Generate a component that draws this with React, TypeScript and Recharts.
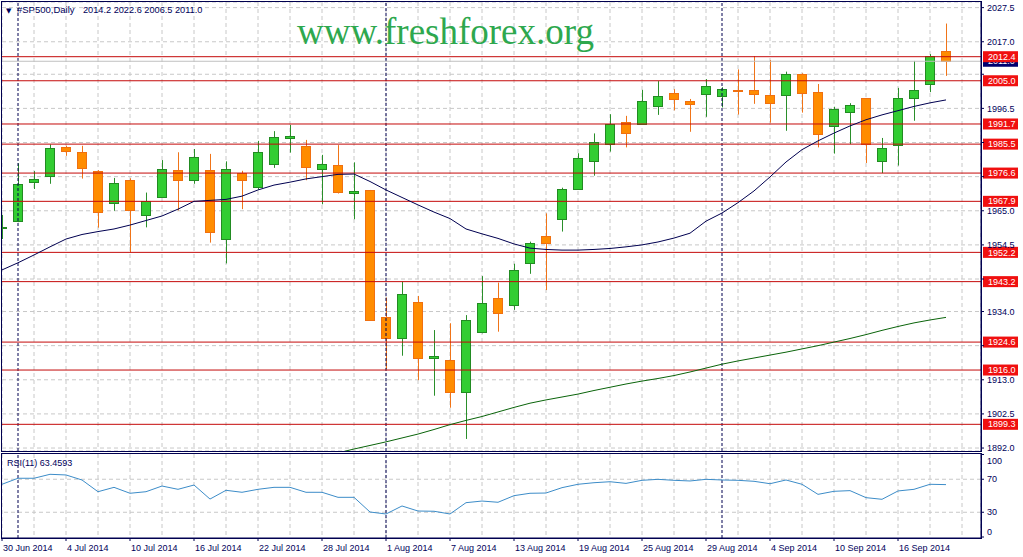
import React from "react";
import { ComposedChart, Bar, Line, XAxis, YAxis, CartesianGrid, ReferenceLine } from "recharts";

// daily candles, 30 Jun 2014 .. 19 Sep 2014 (one per weekday)
const opens = [1959.7, 1961.9, 1973.9, 1975.6, 1984.5, 1983.0, 1977.1, 1967.3, 1974.4, 1963.6, 1969.3, 1977.4, 1974.4, 1977.4, 1956.2, 1976.5, 1972.2, 1979.3, 1987.3, 1984.9, 1977.8, 1979.0, 1970.4, 1971.3, 1932.2, 1925.8, 1936.8, 1919.7, 1919.0, 1909.3, 1927.8, 1938.1, 1935.8, 1949.0, 1957.2, 1962.4, 1971.6, 1980.5, 1985.6, 1992.2, 1991.6, 1997.1, 2001.1, 1998.7, 2000.8, 2000.4, 2002.2, 2002.1, 2000.5, 2000.5, 2007.1, 2001.4, 1991.0, 1995.3, 1999.6, 1980.2, 1985.1, 1999.5, 2003.9, 2014.2];
const highs = [1963.7, 1979.6, 1977.2, 1985.4, 1985.0, 1985.0, 1977.5, 1975.1, 1975.0, 1970.6, 1980.6, 1983.0, 1984.0, 1982.5, 1980.2, 1977.3, 1986.5, 1989.5, 1991.4, 1986.8, 1982.2, 1985.2, 1979.9, 1971.4, 1938.3, 1943.2, 1938.8, 1928.3, 1930.4, 1932.9, 1944.9, 1942.9, 1948.7, 1955.5, 1964.2, 1972.1, 1982.7, 1988.8, 1994.7, 1994.2, 2002.2, 2004.9, 2002.4, 1999.4, 2005.5, 2003.0, 2008.5, 2012.6, 2011.4, 2007.8, 2007.3, 2004.0, 1997.0, 1998.1, 1999.7, 1987.4, 2002.8, 2011.1, 2013.2, 2022.6];
const lows = [1956.3, 1961.5, 1971.7, 1973.3, 1981.9, 1974.9, 1959.8, 1965.0, 1952.2, 1959.9, 1969.1, 1965.1, 1973.3, 1955.2, 1948.8, 1965.5, 1971.5, 1978.2, 1982.9, 1974.4, 1967.0, 1970.3, 1962.4, 1931.2, 1916.3, 1920.4, 1912.9, 1908.1, 1904.4, 1894.8, 1927.3, 1927.8, 1934.5, 1945.6, 1940.6, 1958.6, 1971.5, 1975.8, 1983.2, 1984.5, 1991.5, 1994.5, 1995.9, 1989.3, 1993.9, 1996.8, 1994.6, 1997.9, 1992.1, 1989.6, 1995.2, 1984.5, 1982.6, 1985.5, 1979.7, 1976.6, 1978.9, 1992.7, 2001.5, 2006.5];
const closes = [1959.9, 1973.2, 1974.7, 1984.2, 1983.3, 1978.1, 1964.5, 1973.4, 1965.3, 1967.9, 1977.8, 1974.4, 1981.4, 1958.4, 1977.8, 1974.4, 1983.0, 1987.6, 1988.0, 1978.4, 1979.4, 1970.6, 1971.0, 1931.4, 1925.8, 1939.4, 1919.6, 1920.2, 1909.3, 1931.4, 1936.6, 1933.6, 1946.7, 1955.0, 1954.9, 1971.6, 1981.1, 1986.2, 1991.6, 1988.8, 1998.7, 2000.2, 1999.3, 1997.8, 2003.3, 2002.4, 2001.9, 2000.8, 1997.9, 2007.1, 2001.4, 1988.5, 1996.2, 1997.4, 1985.6, 1984.2, 1999.6, 2002.1, 2012.5, 2011.0];

const maFast = [1946.8, 1949.0, 1951.4, 1953.9, 1956.3, 1957.7, 1958.6, 1959.4, 1960.6, 1962.0, 1963.4, 1965.5, 1967.9, 1968.2, 1968.5, 1969.5, 1971.4, 1972.9, 1973.8, 1974.8, 1975.5, 1976.2, 1976.3, 1974.0, 1971.4, 1969.1, 1966.8, 1964.6, 1962.6, 1959.4, 1957.9, 1956.5, 1954.8, 1953.5, 1953.1, 1952.9, 1952.9, 1953.1, 1953.4, 1953.9, 1954.5, 1955.4, 1956.6, 1958.1, 1961.8, 1964.3, 1967.5, 1971.1, 1975.4, 1980.0, 1983.8, 1986.5, 1988.9, 1991.1, 1993.0, 1994.5, 1995.8, 1997.1, 1998.2, 1999.1];
const maSlow = [null, null, null, null, null, null, null, null, null, null, null, null, null, null, null, null, null, null, null, null, null, 1890.5, 1891.7, 1892.8, 1893.9, 1895.1, 1896.3, 1897.7, 1899.2, 1900.5, 1901.7, 1903.1, 1904.5, 1905.8, 1906.8, 1907.7, 1908.6, 1909.7, 1910.7, 1911.7, 1912.6, 1913.4, 1914.3, 1915.4, 1916.6, 1917.8, 1918.8, 1919.7, 1920.6, 1921.5, 1922.5, 1923.5, 1924.6, 1925.7, 1926.9, 1928.2, 1929.4, 1930.5, 1931.4, 1932.2];

const rsi = [63.9, 71.2, 71.2, 76, 75.2, 69.1, 54.9, 60.2, 53, 54.9, 61.8, 57.8, 63, 46, 56.6, 54.2, 57.8, 60.2, 60.2, 54.2, 54.2, 48.1, 48.1, 30.3, 27.9, 37.6, 31.5, 31.2, 27.9, 41.6, 43.6, 42.1, 50.1, 53, 53.3, 59.8, 63.9, 65.8, 67, 65, 68.7, 69.9, 68.7, 67.9, 69.9, 69.1, 68.7, 67.5, 64.6, 69.1, 63.9, 51.7, 55.4, 56.2, 47.7, 45.7, 55.8, 57.8, 63.9, 63.5];

const levels = [2012.4, 2005.0, 1991.7, 1985.5, 1976.6, 1967.9, 1952.2, 1943.2, 1924.6, 1916.0, 1899.3];
const lastPrice = 2011.0;
const priceTicks = [2027.5, 2017.0, 2007.0, 1996.5, 1986.0, 1975.5, 1965.0, 1954.5, 1944.0, 1934.0, 1923.5, 1913.0, 1902.5, 1892.0];
const coveredTicks = [2007.0, 1986.0, 1975.5, 1944.0, 1923.5];
const rsiTicks = [100, 70, 30, 0];
const rsiLevels = [70, 30];
const separators = [1, 24, 45];
const gridIdx = [0, 2, 4, 6, 8, 10, 12, 14, 16, 18, 20, 22, 24, 26, 28, 30, 32, 34, 36, 38, 40, 42, 44, 46, 48, 50, 52, 54, 56, 58, 60];
const dateTickIdx = [0, 4, 8, 12, 16, 20, 24, 28, 32, 36, 40, 44, 48, 52, 56];
const dateLabels = ["30 Jun 2014", "4 Jul 2014", "10 Jul 2014", "16 Jul 2014", "22 Jul 2014", "28 Jul 2014", "1 Aug 2014", "7 Aug 2014", "13 Aug 2014", "19 Aug 2014", "25 Aug 2014", "29 Aug 2014", "4 Sep 2014", "10 Sep 2014", "16 Sep 2014"];

const NAVY = "#000050";
const TXT = "#00005a";
const GRID = "#c8c8c8";
const FONT = "'Liberation Sans', Arial, sans-serif";
const X_DOMAIN: [number, number] = [0, 61.1875];

const rows = opens.map((o, i) => ({
  i,
  o,
  h: highs[i],
  l: lows[i],
  c: closes[i],
  range: [lows[i], highs[i]],
  maFast: maFast[i],
  maSlow: maSlow[i],
  rsi: rsi[i],
}));

function Candle(props: any) {
  const { x, y, width, height, payload } = props;
  if (x == null || !payload) return null;
  const c = Math.round(x + width / 2) + 0.5;
  const top = Math.min(y, y + height);
  const bot = Math.max(y, y + height);
  const span = payload.h - payload.l || 1;
  const py = (v: number) => top + ((payload.h - v) / span) * (bot - top);
  const yo = py(payload.o);
  const yc = py(payload.c);
  const up = payload.c >= payload.o;
  const bTop = Math.round(Math.min(yo, yc)) + 0.5;
  const bH = Math.max(1, Math.round(Math.abs(yo - yc)));
  return (
    <g>
      <line x1={c} x2={c} y1={top} y2={bot} stroke={up ? "#2a8f2a" : "#f07418"} />
      <rect x={c - 5} y={bTop} width={9} height={bH} fill={up ? "#32cd32" : "#ff8c00"} stroke={up ? "#228b22" : "#f07010"} />
    </g>
  );
}

function Tag(props: any) {
  const { viewBox, lv, bg } = props;
  if (!viewBox) return null;
  const x0 = viewBox.x + viewBox.width + 2;
  const yy = viewBox.y;
  return (
    <g>
      <rect x={x0} y={yy - 5.5} width={35} height={11} fill={bg} />
      <text x={x0 + 5} y={yy} dy="0.35em" fill="#ffffff" fontSize={9} fontFamily={FONT}>
        {lv.toFixed(1)}
      </text>
    </g>
  );
}

function PriceTick(props: any) {
  const { x, y, payload } = props;
  if (coveredTicks.includes(payload.value)) return null;
  return (
    <text x={x} y={y} dy="0.35em" fill={TXT} fontSize={9} fontFamily={FONT} textAnchor="start">
      {payload.value.toFixed(1)}
    </text>
  );
}

function RsiTick(props: any) {
  const { x, y, payload } = props;
  const shift = payload.value === 100 ? 6 : payload.value === 0 ? -5 : 0;
  return (
    <text x={x} y={y + shift} dy="0.35em" fill={TXT} fontSize={9} fontFamily={FONT} textAnchor="start">
      {payload.value}
    </text>
  );
}

function DateTick(props: any) {
  const { x, y, payload } = props;
  const k = dateTickIdx.indexOf(payload.value);
  return (
    <text x={x + 1} y={y + 8} fill={TXT} fontSize={9} fontFamily={FONT} textAnchor="start">
      {dateLabels[k]}
    </text>
  );
}

export default function App() {
  return (
    <div style={{ position: "absolute", left: 0, top: 0, width: 1023, height: 557, background: "#fff", fontFamily: FONT }}>
      <div style={{ position: "absolute", left: 0, top: 0 }}>
        <ComposedChart width={1023} height={453} data={rows} margin={{ top: 2, right: 0, bottom: 2, left: 2 }}>
          <CartesianGrid stroke={GRID} strokeDasharray="4 3" />
          <XAxis type="number" dataKey="i" domain={X_DOMAIN} ticks={gridIdx} interval={0} hide height={0} allowDataOverflow />
          <YAxis
            orientation="right"
            width={42}
            domain={[1891.09, 2029.23]}
            allowDataOverflow
            ticks={priceTicks}
            interval={0}
            tickSize={3}
            tickMargin={3}
            axisLine={{ stroke: NAVY }}
            tickLine={{ stroke: NAVY }}
            tick={<PriceTick />}
          />
          {separators.map((s) => (
            <ReferenceLine key={"s" + s} x={s} stroke={NAVY} strokeDasharray="3 2" />
          ))}
          <ReferenceLine y={lastPrice} stroke="#c0c0c0" label={(p: any) => <Tag viewBox={p.viewBox} lv={lastPrice} bg="#000070" />} />
          {levels.map((lv) => (
            <ReferenceLine key={"l" + lv} y={lv} stroke="#c40a0a" label={(p: any) => <Tag viewBox={p.viewBox} lv={lv} bg="#f01010" />} />
          ))}
          <Line dataKey="maSlow" stroke="#0a640a" strokeWidth={1} dot={false} isAnimationActive={false} />
          <Line dataKey="maFast" stroke={NAVY} strokeWidth={1} dot={false} isAnimationActive={false} />
          <Bar dataKey="range" barSize={10} shape={<Candle />} isAnimationActive={false} />
        </ComposedChart>
      </div>
      <div style={{ position: "absolute", left: 0, top: 453 }}>
        <ComposedChart width={1023} height={104} data={rows} margin={{ top: 1, right: 0, bottom: 0, left: 2 }}>
          <XAxis
            xAxisId="lbl"
            type="number"
            dataKey="i"
            domain={X_DOMAIN}
            ticks={dateTickIdx}
            interval={0}
            height={19}
            tickSize={3}
            tickMargin={2}
            axisLine={{ stroke: NAVY }}
            tickLine={{ stroke: NAVY }}
            tick={<DateTick />}
          />
          <XAxis xAxisId="grid" type="number" dataKey="i" domain={X_DOMAIN} ticks={gridIdx} interval={0} hide height={0} />
          <CartesianGrid xAxisId="grid" stroke={GRID} strokeDasharray="4 3" horizontal={false} />
          <YAxis
            orientation="right"
            width={42}
            domain={[-1.2, 100.6]}
            allowDataOverflow
            ticks={rsiTicks}
            interval={0}
            tickSize={3}
            tickMargin={3}
            axisLine={{ stroke: NAVY }}
            tickLine={{ stroke: NAVY }}
            tick={<RsiTick />}
          />
          {rsiLevels.map((v) => (
            <ReferenceLine key={"r" + v} xAxisId="grid" y={v} stroke={GRID} strokeDasharray="4 3" />
          ))}
          {separators.map((s) => (
            <ReferenceLine key={"rs" + s} xAxisId="grid" x={s} stroke={NAVY} strokeDasharray="3 2" />
          ))}
          <Line xAxisId="grid" dataKey="rsi" stroke="#3c8cc8" strokeWidth={1} dot={false} isAnimationActive={false} />
        </ComposedChart>
      </div>
      <div style={{ position: "absolute", left: 1, top: 1, width: 981, height: 451, border: `1px solid ${NAVY}`, boxSizing: "border-box", pointerEvents: "none" }} />
      <div style={{ position: "absolute", left: 1, top: 453, width: 981, height: 86, border: `1px solid ${NAVY}`, boxSizing: "border-box", pointerEvents: "none" }} />
      <svg width={1023} height={557} style={{ position: "absolute", left: 0, top: 0, pointerEvents: "none" }}>
        <text x={6} y={12.5} fontSize={7} fill={TXT} fontFamily="'DejaVu Sans', sans-serif">▼</text>
        <text x={17} y={12.5} fontSize={9.5} fill={TXT} fontFamily={FONT}>#SP500,Daily</text>
        <text x={83} y={12.5} fontSize={9.2} fill={TXT} fontFamily={FONT}>2014.2 2022.6 2006.5 2011.0</text>
        <text x={297} y={44} fontSize={37} fill="#2ea84e" fontFamily="'Liberation Serif', 'Times New Roman', serif">www.freshforex.org</text>
        <text x={7} y={466} fontSize={9} fill={TXT} fontFamily={FONT}>RSI(11) 63.4593</text>
      </svg>
    </div>
  );
}
